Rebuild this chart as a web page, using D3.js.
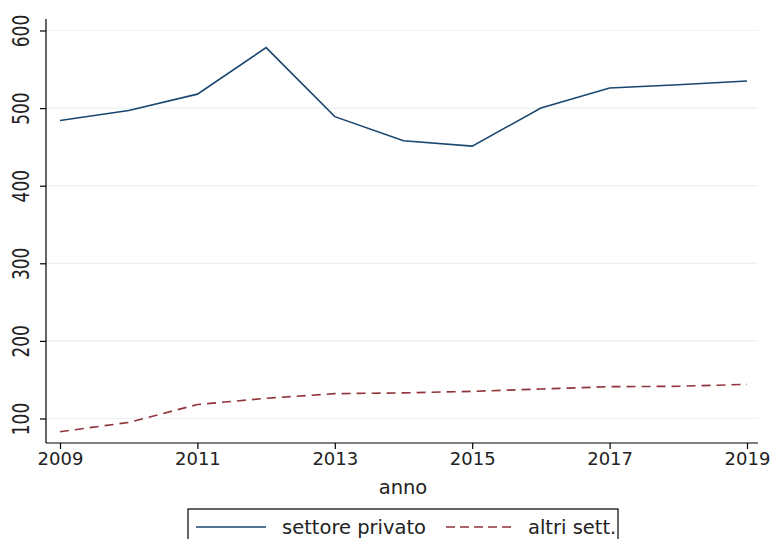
<!DOCTYPE html>
<html>
<head>
<meta charset="utf-8">
<script src="https://cdn.jsdelivr.net/npm/d3@7"></script>
<style>
  html, body { margin: 0; padding: 0; background: #fff; }
  svg { display: block; }
  svg text { font-family: "DejaVu Sans", sans-serif; }
</style>
</head>
<body>
<svg id="chart" width="770" height="539"></svg>
<script>
// Series by year
const years = [2009, 2010, 2011, 2012, 2013, 2014, 2015, 2016, 2017, 2018, 2019];
const privato = [484, 497, 518, 578, 489, 458, 451, 500, 526, 530, 535];
const altri = [83, 95, 118, 126, 132, 133, 135, 138, 141, 141.5, 144];
const yTicks = [100, 200, 300, 400, 500, 600];
const xTicks = [2009, 2011, 2013, 2015, 2017, 2019];
const seriesNames = ["settore privato", "altri sett."];

const svg = d3.select("#chart");
const x = d3.scaleLinear().domain([2009, 2019]).range([60, 747]);
const y = d3.scaleLinear().domain([100, 600]).range([418.5, 30.5]);

const plotLeft = 46, plotRight = 758, plotTop = 19, plotBottom = 443;
const FONT = "DejaVu Sans";

// horizontal grid
svg.append("g").selectAll("line").data(yTicks).join("line")
  .attr("x1", plotLeft).attr("x2", plotRight)
  .attr("y1", d => y(d)).attr("y2", d => y(d))
  .attr("stroke", "#eaf2f3").attr("stroke-width", 1.2);

// y axis
const yAxis = svg.append("g").attr("transform", `translate(${plotLeft},0)`)
  .call(d3.axisLeft(y).tickValues(yTicks).tickSize(6).tickSizeOuter(0).tickFormat(d3.format("d")))
  .attr("font-family", FONT);
yAxis.select(".domain").remove();
yAxis.append("line").attr("x1", 0).attr("x2", 0).attr("y1", plotTop).attr("y2", plotBottom)
  .attr("stroke", "#000").attr("stroke-width", 1.2);
yAxis.selectAll(".tick line").attr("stroke", "#000").attr("stroke-width", 1.2);
yAxis.selectAll(".tick text")
  .attr("font-size", 17).attr("fill", "#222")
  .attr("x", null).attr("dy", null)
  .attr("text-anchor", "middle")
  .attr("transform", "translate(-24,0) rotate(-90) scale(1,1.4)")
  .attr("dominant-baseline", "middle");

// x axis
const xAxis = svg.append("g").attr("transform", `translate(0,${plotBottom})`)
  .call(d3.axisBottom(x).tickValues(xTicks).tickSize(6).tickSizeOuter(0).tickFormat(d3.format("d")))
  .attr("font-family", FONT);
xAxis.select(".domain").remove();
xAxis.append("line").attr("x1", plotLeft).attr("x2", plotRight).attr("y1", 0).attr("y2", 0)
  .attr("stroke", "#000").attr("stroke-width", 1.2);
xAxis.selectAll(".tick line").attr("stroke", "#000").attr("stroke-width", 1.2);
xAxis.selectAll(".tick text").attr("font-size", 18).attr("fill", "#222").attr("y", 9);

// axis title
svg.append("text").attr("x", 403).attr("y", 494).attr("text-anchor", "middle")
  .attr("font-size", 19.5).attr("fill", "#222").text("anno");

// lines
const line = d3.line().x((d, i) => x(years[i])).y(d => y(d));
svg.append("path").datum(privato).attr("d", line)
  .attr("fill", "none").attr("stroke", "#1a476f").attr("stroke-width", 1.6);
svg.append("path").datum(altri).attr("d", line)
  .attr("fill", "none").attr("stroke", "#90353b").attr("stroke-width", 1.6)
  .attr("stroke-dasharray", "9,6");

// legend
const lg = svg.append("g");
lg.append("rect").attr("x", 188).attr("y", 509).attr("width", 430).attr("height", 40)
  .attr("fill", "#fff").attr("stroke", "#000").attr("stroke-width", 1.2);
lg.append("line").attr("x1", 196).attr("x2", 266).attr("y1", 527).attr("y2", 527)
  .attr("stroke", "#1a476f").attr("stroke-width", 1.6);
lg.append("text").attr("x", 282).attr("y", 534).attr("font-size", 19.5).attr("fill", "#222").text(seriesNames[0]);
lg.append("line").attr("x1", 446).attr("x2", 516).attr("y1", 527).attr("y2", 527)
  .attr("stroke", "#90353b").attr("stroke-width", 1.6).attr("stroke-dasharray", "9,5");
lg.append("text").attr("x", 528).attr("y", 534).attr("font-size", 19.5).attr("fill", "#222").text(seriesNames[1]);
</script>
</body>
</html>
